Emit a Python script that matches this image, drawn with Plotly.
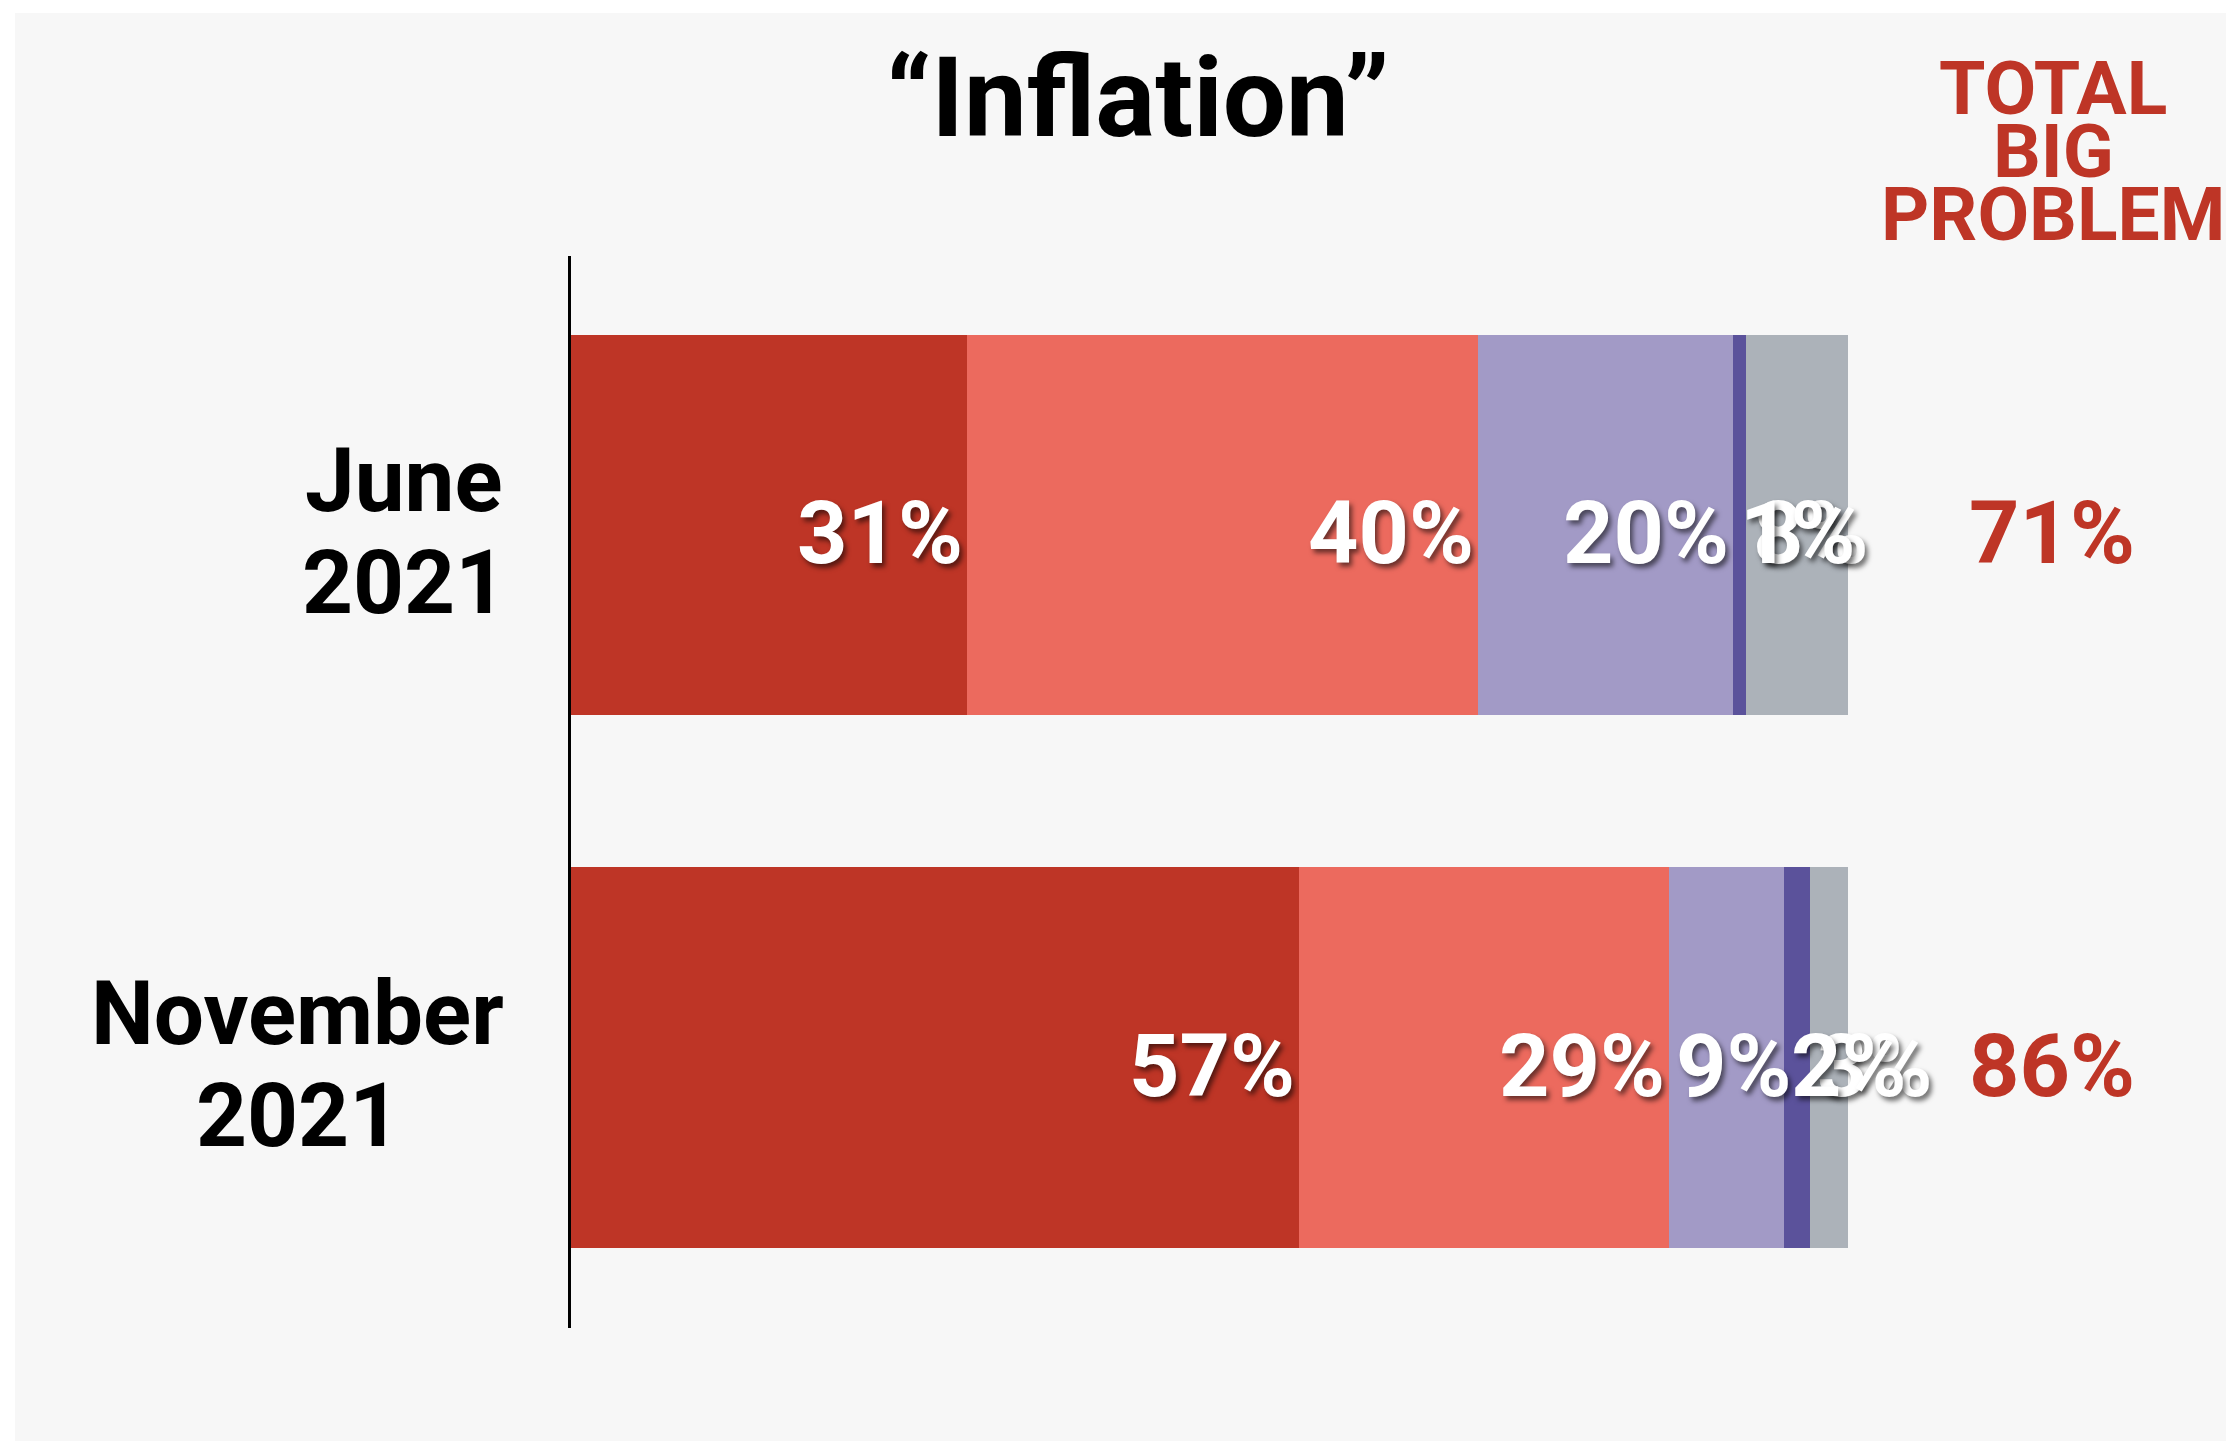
import plotly.graph_objects as go

# ---------------- data ----------------
categories = ['June<br>2021', 'November<br>2021']
series_names = ['Very big problem', 'Moderately big problem', 'Small problem',
                'Not a problem at all', "Don't know"]
very_big = [31, 57]
moderately_big = [40, 29]
small_problem = [20, 9]
not_a_problem = [1, 2]
dont_know = [8, 3]
total_big = [71, 86]
title_text = '“Inflation”'
total_header = ['TOTAL', 'BIG', 'PROBLEM']

series_values = [very_big, moderately_big, small_problem, not_a_problem, dont_know]
colors = ['#BE3526', '#EC6A5E', '#A29AC6', '#5B529B', '#ACB2B9']
RED = '#BE3526'

# ---------------- layout geometry ----------------
OFF = 8  # page body margin
W, H = 2234, 1441
L = 571 - OFF
T = 256 - OFF
R = W - (1848 - OFF)
B = H - (1328 - OFF)
plot_w = W - L - R
plot_h = H - T - B
FONT = 'Roboto'

# approximate advance widths (em) of the bold font, for text placement
char_w = {'%': 0.73, 'N': 0.71, 'o': 0.57, 'v': 0.50, 'e': 0.53, 'm': 0.88,
          'b': 0.56, 'r': 0.35, 'J': 0.55, 'u': 0.56, 'n': 0.56}


def est_width(s, size):
    return sum(char_w.get(ch, 0.56) for ch in s) * size


def px_x(px):
    return (px - OFF - L) / plot_w


def px_y(py):
    return (H - B - (py - OFF)) / plot_h


fig = go.Figure()
for name, vals, col in zip(series_names, series_values, colors):
    fig.add_trace(go.Bar(
        y=categories, x=vals, name=name, orientation='h',
        marker=dict(color=col, line=dict(width=0)),
        width=0.714, hoverinfo='skip', showlegend=False,
    ))

annotations = []

# segment labels
LBL_SIZE = 88
PAD_R = 2
PAD_L = 5
LBL_YSHIFT = -8
shadow = '3px 4px 5px rgba(0,0,0,0.55)'
for ci, cat in enumerate(categories):
    starts = []
    acc = 0
    for vals in series_values:
        starts.append(acc)
        acc += vals[ci]
    for si in reversed(range(len(series_values))):
        v = series_values[si][ci]
        s0 = starts[si]
        s1 = s0 + v
        txt = f'{v}%'
        seg_px = v * plot_w / 100
        fits = seg_px >= est_width(txt, LBL_SIZE) + 20
        annotations.append(dict(
            x=s1 if fits else s0, y=cat, xref='x', yref='y',
            xanchor='right' if fits else 'left', yanchor='middle',
            xshift=-PAD_R if fits else PAD_L, yshift=LBL_YSHIFT,
            text=txt, showarrow=False,
            font=dict(family=FONT, size=LBL_SIZE, color='white', weight='bold',
                      shadow=shadow),
        ))

# totals
for ci, cat in enumerate(categories):
    annotations.append(dict(
        x=px_x(2052), y=cat, xref='paper', yref='y',
        xanchor='center', yanchor='middle', yshift=LBL_YSHIFT,
        text=f'{total_big[ci]}%', showarrow=False,
        font=dict(family=FONT, size=LBL_SIZE, color=RED, weight='bold'),
    ))

# category labels: centred lines, block right-aligned near the axis
CAT_SIZE = 89
CAT_RIGHT = 504
line_shifts = [44, -58]
for ci, cat in enumerate(categories):
    lines = cat.split('<br>')
    block_w = max(est_width(l, CAT_SIZE) for l in lines)
    cx = px_x(CAT_RIGHT - block_w / 2)
    for line, shift in zip(lines, line_shifts):
        annotations.append(dict(
            x=cx, y=cat, xref='paper', yref='y',
            xanchor='center', yanchor='middle', yshift=shift,
            text=line, showarrow=False,
            font=dict(family=FONT, size=CAT_SIZE, color='black', weight='bold'),
        ))

# title
annotations.append(dict(
    x=px_x(1138), y=px_y(97), xref='paper', yref='paper',
    xanchor='center', yanchor='middle', text=title_text, showarrow=False,
    font=dict(family=FONT, size=112, color='black', weight='bold'),
))

# total header
for txt, cy in zip(total_header, [88, 151, 214]):
    annotations.append(dict(
        x=px_x(2053), y=px_y(cy), xref='paper', yref='paper',
        xanchor='center', yanchor='middle', text=txt, showarrow=False,
        font=dict(family=FONT, size=75, color=RED, weight='bold'),
    ))

fig.update_layout(
    width=W, height=H,
    margin=dict(l=L, r=R, t=T, b=B, pad=0),
    barmode='stack', bargap=0,
    paper_bgcolor='white', plot_bgcolor='rgba(0,0,0,0)',
    xaxis=dict(range=[0, 100], visible=False, fixedrange=True),
    yaxis=dict(type='category', categoryorder='array', categoryarray=categories,
               range=[1.508, -0.505], showticklabels=False, ticks='',
               showline=True, linecolor='black', linewidth=3,
               showgrid=False, zeroline=False, fixedrange=True),
    shapes=[dict(type='rect', xref='paper', yref='paper', layer='below',
                 x0=px_x(15), x1=px_x(W + 20), y0=px_y(H + 20), y1=px_y(13),
                 fillcolor='#F7F7F7', line=dict(width=0))],
    annotations=annotations,
    font=dict(family=FONT),
)

fig.write_html('out.html', config={'displayModeBar': False})
